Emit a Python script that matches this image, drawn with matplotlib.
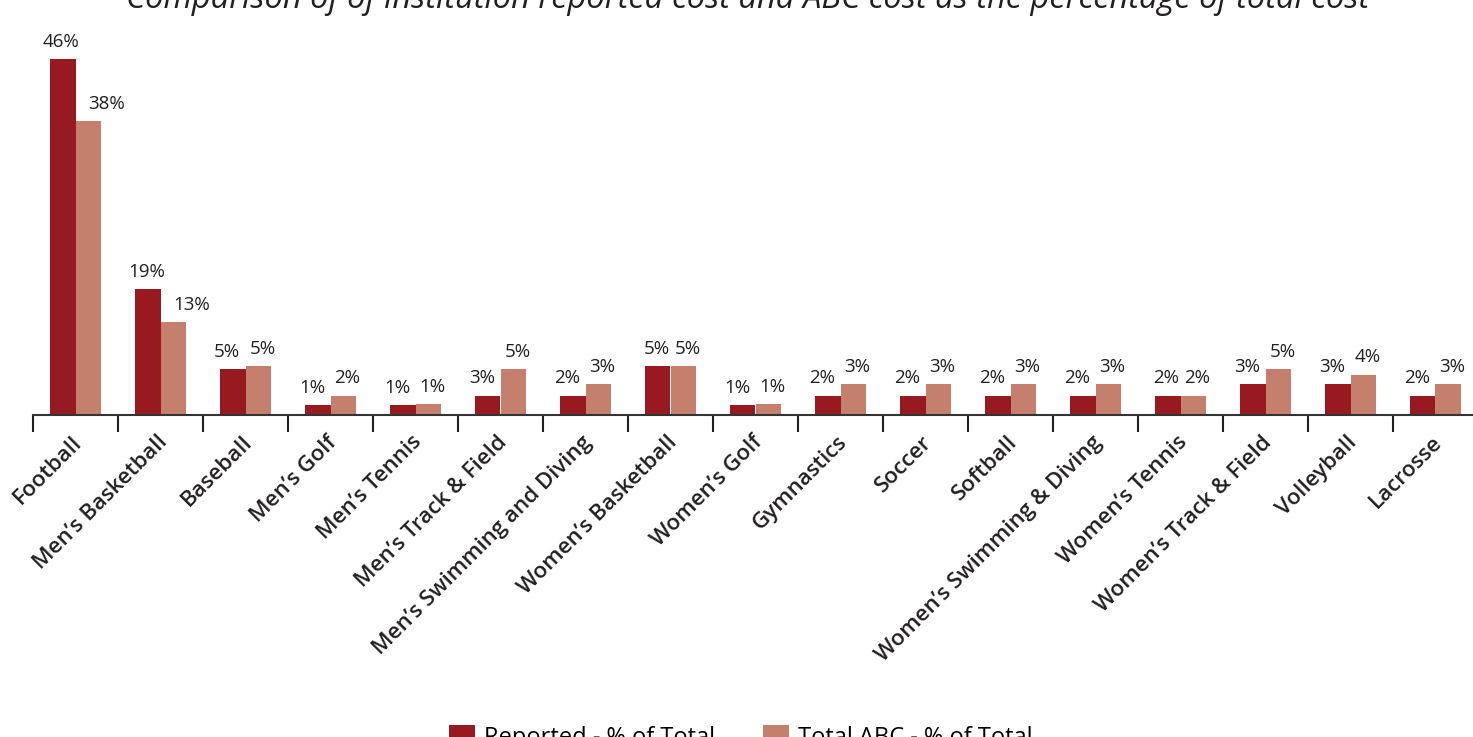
import matplotlib.pyplot as plt
import matplotlib.transforms as mtransforms
import numpy as np

plt.rcParams['font.family'] = ['Open Sans', 'DejaVu Sans']

sports = ["Football", "Men\u2019s Basketball", "Baseball", "Men\u2019s Golf", "Men\u2019s Tennis",
          "Men\u2019s Track & Field", "Men\u2019s Swimming and Diving", "Women\u2019s Basketball",
          "Women\u2019s Golf", "Gymnastics", "Soccer", "Softball", "Women\u2019s Swimming & Diving",
          "Women\u2019s Tennis", "Women\u2019s Track & Field", "Volleyball", "Lacrosse"]

# bar heights as drawn (percent of total)
reported = [46.0, 16.3, 5.9, 1.3, 1.3, 2.5, 2.5, 6.3, 1.3, 2.5, 2.5, 2.5, 2.5, 2.5, 4.0, 4.0, 2.5]
abc = [38.0, 12.0, 6.3, 2.5, 1.4, 5.9, 4.0, 6.3, 1.4, 4.0, 4.0, 4.0, 4.0, 2.5, 5.9, 5.2, 4.0]

# printed labels
reported_lbl = ["46%", "19%", "5%", "1%", "1%", "3%", "2%", "5%", "1%", "2%", "2%", "2%", "2%", "2%", "3%", "3%", "2%"]
abc_lbl = ["38%", "13%", "5%", "2%", "1%", "5%", "3%", "5%", "1%", "3%", "3%", "3%", "3%", "2%", "5%", "4%", "3%"]

red = "#961A20"
salmon = "#C4806C"
ink = "#231F20"

fig = plt.figure(figsize=(14.73, 7.37), dpi=100)
ax = fig.add_axes([33 / 1473, 1 - 415 / 737, 17 * 85 / 1473, 387 / 737])

x = np.arange(len(sports))
w = 0.3
b1 = ax.bar(x - w / 2, reported, w, color=red, label="Reported - % of Total", zorder=2)
b2 = ax.bar(x + w / 2, abc, w, color=salmon, label="Total ABC - % of Total", zorder=2)

# labels nudged apart so neighbours don't collide
for i in range(len(sports)):
    dx1 = -4 if abc[i] > reported[i] else -1
    dx2 = 13 if reported[i] > abc[i] + 2 else 3
    ax.annotate(reported_lbl[i], (x[i] - w / 2, reported[i]), xytext=(dx1, 6),
                textcoords="offset points", ha="center", va="bottom", fontsize=13.5, color=ink)
    ax.annotate(abc_lbl[i], (x[i] + w / 2, abc[i]), xytext=(dx2, 6),
                textcoords="offset points", ha="center", va="bottom", fontsize=13.5, color=ink)

ax.set_xlim(-0.5, len(sports) - 0.5)
ax.set_ylim(0, 50)
for s in ["top", "right", "left"]:
    ax.spines[s].set_visible(False)
ax.spines["bottom"].set_color("#333333")
ax.spines["bottom"].set_linewidth(1.5)
ax.set_yticks([])

ax.set_xticks(np.arange(len(sports) + 1) - 0.5, minor=True)
ax.tick_params(axis="x", which="minor", length=12, width=1.5, color=ink)
ax.set_xticks(x)
ax.set_xticklabels(sports, rotation=45, ha="right", rotation_mode="anchor",
                   fontsize=16, color=ink, fontweight="semibold")
ax.tick_params(axis="x", which="major", length=0, pad=12)
offset = mtransforms.ScaledTranslation(-4 / 100, 0, fig.dpi_scale_trans)
for lab in ax.get_xticklabels():
    lab.set_transform(lab.get_transform() + offset)

fig.text(748 / 1473, 1 - 8 / 737, "Comparison of of institution reported cost and ABC cost as the percentage of total cost",
         ha="center", va="baseline", fontsize=23.5, style="italic", color=ink)

fig.legend(loc="upper left", bbox_to_anchor=(449 / 1473, 1 - 725 / 737), ncol=2, frameon=False,
           fontsize=17, handlelength=1.1, handleheight=1.1, columnspacing=2.0, handletextpad=0.4,
           borderpad=0, borderaxespad=0)

plt.savefig("out.png", dpi=100)
